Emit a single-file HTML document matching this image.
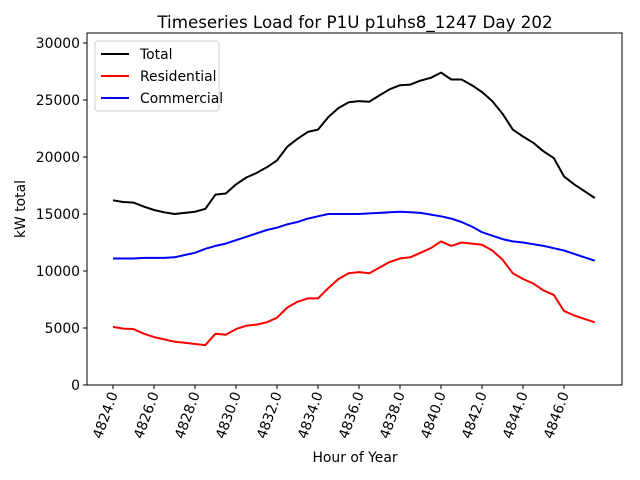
<!DOCTYPE html>
<html><head><meta charset="utf-8"><style>
body{margin:0;background:#fff;}
svg{display:block;font-family:"DejaVu Sans","Liberation Sans",sans-serif;}
</style></head><body>
<svg id="chart" width="640" height="480">
<text x="355" y="28" font-size="16.7" text-anchor="middle">Timeseries Load for P1U p1uhs8_1247  Day 202</text>
<text x="355" y="462" font-size="13.9" text-anchor="middle">Hour of Year</text>
<text transform="translate(25,209) rotate(-90)" font-size="13.9" text-anchor="middle">kW total</text>
<g id="plot"></g>
<rect x="87" y="33" width="535" height="352" fill="none" stroke="#000" stroke-width="1"/>
<g>
<rect x="95" y="41" width="124" height="70" rx="3" fill="#fff" fill-opacity="0.8" stroke="#ccc"/>
<g><line x1="101" y1="54" x2="129" y2="54" stroke="#000" stroke-width="2"/><text x="140" y="59" font-size="13.9">Total</text></g>
<g><line x1="101" y1="76" x2="129" y2="76" stroke="red" stroke-width="2"/><text x="140" y="81" font-size="13.9">Residential</text></g>
<g><line x1="101" y1="98" x2="129" y2="98" stroke="blue" stroke-width="2"/><text x="140" y="103" font-size="13.9">Commercial</text></g>
</g>
</svg>
<script>
const startHour = 4824;
const stepHour = 0.5;
const residential = [5100,4950,4900,4500,4200,4000,3800,3700,3600,3500,4500,4400,4900,5200,5300,5500,5900,6800,7300,7600,7600,8500,9300,9800,9900,9800,10300,10800,11100,11200,11600,12000,12600,12200,12500,12400,12300,11800,11000,9800,9300,8900,8300,7900,6500,6100,5800,5500];
const commercial = [11100,11100,11100,11150,11150,11150,11200,11400,11600,11950,12200,12400,12700,13000,13300,13600,13800,14100,14300,14600,14800,15000,15000,15000,15000,15050,15100,15150,15200,15150,15100,14950,14800,14600,14300,13900,13400,13100,12800,12600,12500,12350,12200,12000,11800,11500,11200,10900];
const total = [16200,16050,16000,15650,15350,15150,15000,15100,15200,15450,16700,16800,17600,18200,18600,19100,19700,20900,21600,22200,22400,23500,24300,24800,24900,24850,25400,25950,26300,26350,26700,26950,27400,26800,26800,26300,25700,24900,23800,22400,21800,21250,20500,19900,18300,17600,17000,16400];
const yTicks = [0,5000,10000,15000,20000,25000,30000];
const xTicks = [4824,4826,4828,4830,4832,4834,4836,4838,4840,4842,4844,4846];

const NS = "http://www.w3.org/2000/svg";
const X0 = 113, PXH = 20.5, Y0 = 385, PXV = 342/30000;
function xs(h){return X0 + (h - 4824)*PXH;}
function ys(v){return Y0 - v*PXV;}
const plot = document.getElementById('plot');
function el(tag, attrs){const e=document.createElementNS(NS,tag);for(const k in attrs)e.setAttribute(k,attrs[k]);plot.appendChild(e);return e;}

yTicks.forEach(v=>{
  const t = el('line',{x1:83,x2:87,y1:ys(v),y2:ys(v),stroke:'#000'});
  
  
  const l = el('text',{x:80,y:ys(v)+5,'font-size':13.9,'text-anchor':'end'});
  l.textContent = v;
  
  
});
xTicks.forEach(h=>{
  const x = xs(h);
  const t = el('line',{x1:x,x2:x,y1:385,y2:389,stroke:'#000'});
  
  
  const l = el('text',{transform:`translate(${x+5},${394}) rotate(-70)`,'font-size':13.9,'text-anchor':'end'});
  l.textContent = h.toFixed(1);
  
  
});
function series(arr,color,name){
  const pts = arr.map((v,i)=>xs(startHour+i*stepHour).toFixed(1)+','+ys(v).toFixed(1)).join(' ');
  const p = el('polyline',{points:pts,fill:'none',stroke:color,'stroke-width':2,'stroke-linejoin':'round'});
  
  
}
series(total,'#000','total-line');
series(residential,'red','residential-line');
series(commercial,'blue','commercial-line');
</script>
</body></html>
